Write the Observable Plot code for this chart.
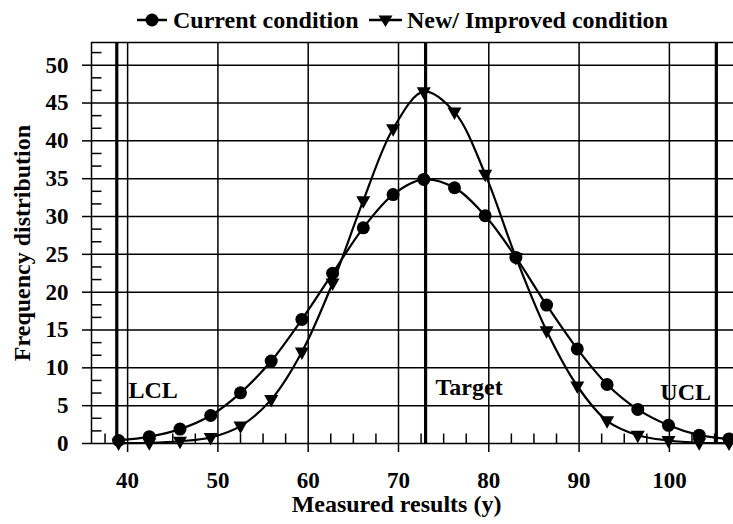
<!DOCTYPE html>
<html><head><meta charset="utf-8">
<script src="https://cdn.jsdelivr.net/npm/d3@7"></script>
<script src="https://cdn.jsdelivr.net/npm/@observablehq/plot@0.6"></script>
<style>
body{margin:0;background:#fff;}
#chart{width:733px;height:524px;position:relative;font-family:"Liberation Serif","Times New Roman",serif;font-weight:bold;color:#000;}
#legend{height:36px;position:relative;font-size:24px;}
.item{position:absolute;top:2px;height:36px;display:flex;align-items:center;white-space:nowrap;}
#plot svg{display:block;}
</style></head><body>
<div id="chart"><div id="legend"></div><div id="plot"></div></div>
<script>
// ---- data ----
const measured = [39.0, 42.4, 45.8, 49.2, 52.5, 55.9, 59.3, 62.7, 66.1, 69.4, 72.8, 76.2, 79.6, 83.0, 86.4, 89.8, 93.1, 96.5, 99.9, 103.3, 106.6];
const current  = [0.4, 0.9, 1.9, 3.7, 6.7, 10.9, 16.4, 22.5, 28.5, 32.9, 34.9, 33.8, 30.1, 24.6, 18.3, 12.5, 7.8, 4.5, 2.4, 1.1, 0.6];
const improved = [0.05, 0.1, 0.3, 0.8, 2.3, 5.8, 12.1, 21.2, 32.1, 41.6, 46.5, 43.8, 35.6, 24.6, 14.9, 7.6, 3.0, 1.1, 0.4, 0.1, 0.05];
const seriesNames = ["Current condition", "New/ Improved condition"];
const xTicks = [40, 50, 60, 70, 80, 90, 100];
const yTicks = [0, 5, 10, 15, 20, 25, 30, 35, 40, 45, 50];
const minorX = [37.5, 42.5, 45, 47.5, 52.5, 55, 57.5, 62.5, 65, 67.5, 72.5, 75, 77.5, 82.5, 85, 87.5, 92.5, 95, 97.5, 102.5, 105];
const minorY = [5/3, 10/3, 20/3, 25/3, 35/3, 40/3, 50/3, 55/3, 65/3, 70/3, 80/3, 85/3, 95/3, 100/3, 110/3, 115/3, 125/3, 130/3, 140/3, 145/3, 155/3];
const limitValues = [38.8, 73, 105.2];
const limitLabels = ["LCL", "Target", "UCL"];
const limitLabelX = [40.1, 74.1, 99.0];
const limitLabelY = [7.0, 7.4, 6.7];
const xDomain = [36, 107.1];
const yDomain = [0, 53];
const xTitle = "Measured results (y)";
const yTitle = "Frequency distribution";

const curRows = measured.map((x, i) => ({x, y: current[i]}));
const impRows = measured.map((x, i) => ({x, y: improved[i]}));

const downTri = {draw(ctx) { ctx.moveTo(-7, -4.5); ctx.lineTo(7, -4.5); ctx.lineTo(0, 8); ctx.closePath(); }};
const upTick = {draw(ctx) { ctx.moveTo(0, 0); ctx.lineTo(0, -10); }};
const rightTick = {draw(ctx) { ctx.moveTo(0, 0); ctx.lineTo(10, 0); }};
const font = '"Liberation Serif","Times New Roman",serif';

// ---- legend ----
const legend = document.getElementById("legend");
legend.innerHTML = `
<div class="item" style="left:137px"><svg width="30" height="20"><line x1="0" y1="10" x2="30" y2="10" stroke="black" stroke-width="2.5"/><circle cx="15" cy="10" r="6.5" fill="black"/></svg><span style="margin-left:6px">${seriesNames[0]}</span></div>
<div class="item" style="left:369px"><svg width="33" height="20"><line x1="0" y1="10" x2="33" y2="10" stroke="black" stroke-width="2.5"/><path d="M9.5,5.5L23.5,5.5L16.5,17Z" fill="black"/></svg><span style="margin-left:5px">${seriesNames[1]}</span></div>`;

// ---- plot ----
const lineStyle = {stroke: "black", strokeOpacity: 1, strokeWidth: 1.5};
const chart = Plot.plot({
  width: 733, height: 488,
  marginTop: 6, marginLeft: 91, marginRight: 0, marginBottom: 81,
  x: {domain: xDomain}, y: {domain: yDomain},
  style: {fontFamily: font, fontWeight: "bold", fontSize: "23px", color: "black", background: "white", overflow: "hidden"},
  marks: [
    Plot.gridX(xTicks, lineStyle),
    Plot.gridY(yTicks.filter(d => d > 0), lineStyle),
    Plot.ruleY(yDomain, {strokeWidth: 1.5}),
    Plot.ruleX([xDomain[0]], {strokeWidth: 1.5}),
    Plot.ruleX(limitValues, {strokeWidth: 3.2}),
    Plot.axisX({ticks: xTicks, tickSize: 9, tickPadding: 19, strokeWidth: 1.5, label: null, fontSize: 23}),
    Plot.axisY({ticks: yTicks, tickSize: 9, tickPadding: 14, strokeWidth: 1.5, label: null, fontSize: 23}),
    Plot.dot(minorX, {x: d => d, y: () => 0, symbol: upTick, stroke: "black", strokeWidth: 1.5, fill: "none"}),
    Plot.dot(minorY, {x: () => xDomain[0], y: d => d, symbol: rightTick, stroke: "black", strokeWidth: 1.5, fill: "none"}),
    Plot.line(curRows, {x: "x", y: "y", curve: "catmull-rom", stroke: "black", strokeWidth: 2.2}),
    Plot.line(impRows, {x: "x", y: "y", curve: "catmull-rom", stroke: "black", strokeWidth: 2.2}),
    Plot.dot(curRows, {x: "x", y: "y", r: 6.5, fill: "black", symbol: "circle"}),
    Plot.dot(impRows, {x: "x", y: "y", symbol: downTri, fill: "black"}),
    Plot.text(limitLabels, {x: (d, i) => limitLabelX[i], y: (d, i) => limitLabelY[i], text: d => d, textAnchor: "start", fontSize: 24, fontWeight: "bold", fill: "black"}),
    Plot.text([xTitle], {text: d => d, frameAnchor: "bottom", textAnchor: "middle", dy: 68, dx: -16, fontSize: 24, fontWeight: "bold", fill: "black"}),
    Plot.text([yTitle], {text: d => d, frameAnchor: "left", textAnchor: "middle", dx: -69, rotate: -90, fontSize: 24, fontWeight: "bold", fill: "black"})
  ]
});
document.getElementById("plot").appendChild(chart);
</script>
</body></html>
